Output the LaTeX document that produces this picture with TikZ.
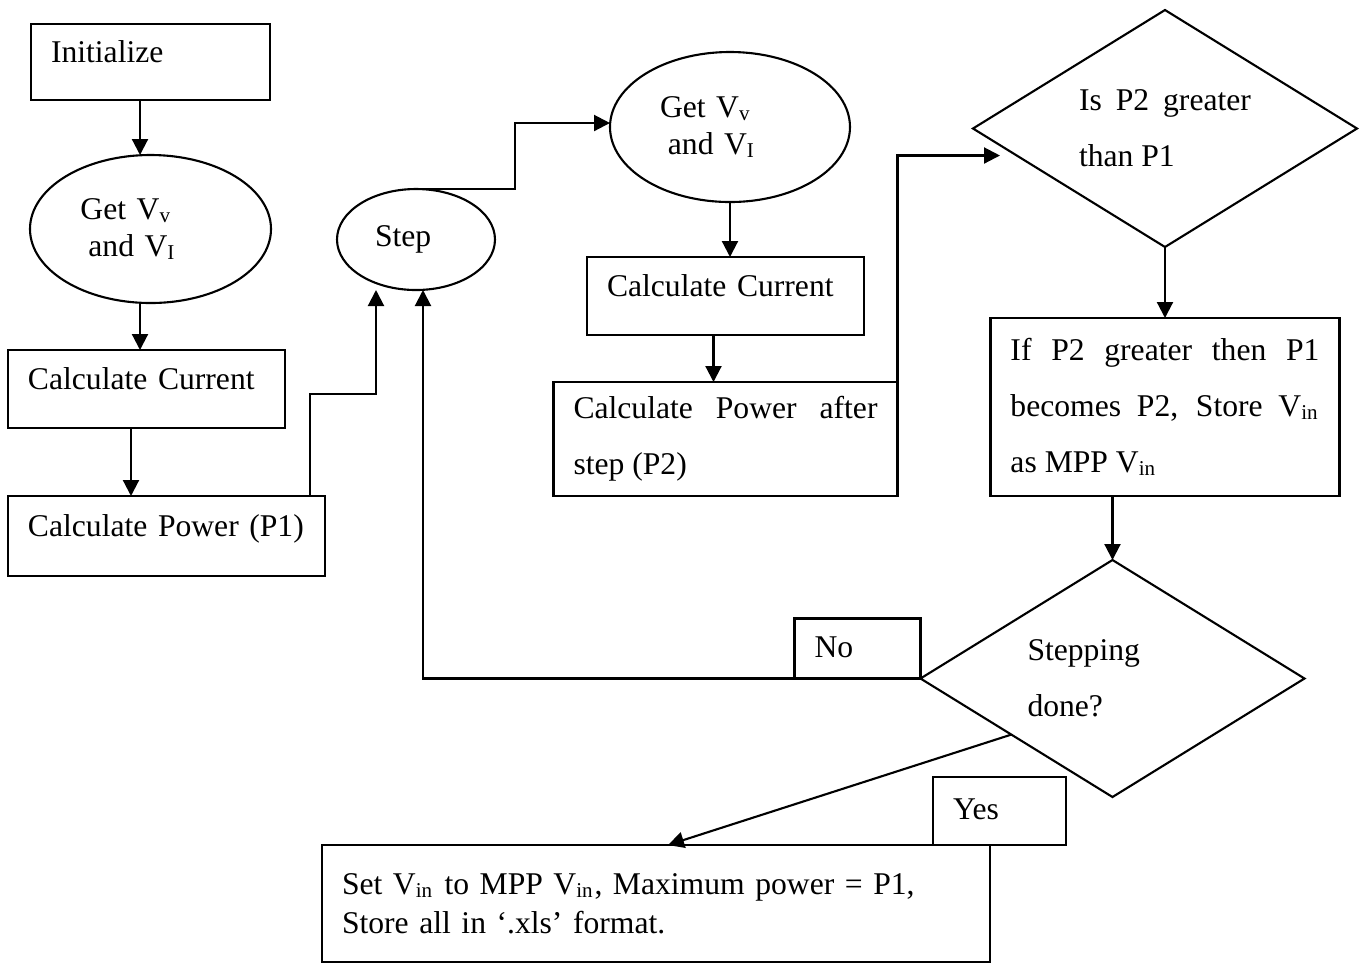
\documentclass[tikz,border=0pt]{standalone}
\usepackage{fontspec}
\setmainfont{Liberation Serif}
\usetikzlibrary{shapes.geometric, arrows.meta, positioning}
\hyphenpenalty=10000
\tolerance=10000

\begin{document}
\begin{tikzpicture}[
    >={Triangle[length=1.6mm, width=1.6mm]},
    font=\fontsize{9}{10.4}\selectfont,
    line width=0.6pt,
    box/.style={draw, rectangle, inner xsep=0.2cm, inner ysep=0pt, outer sep=0pt, align=left},
    onebox/.style={box, text height=1.2ex, text depth=1.2ex},
    tagbox/.style={box, text height=1.6ex, text depth=0.5ex},
    widebox/.style={box, align=justify, font=\fontsize{9}{15.9}\selectfont},
    oval/.style={draw, ellipse, inner sep=0pt, outer sep=0pt, align=left},
    decision/.style={draw, diamond, aspect=1.6, inner sep=0pt, outer sep=0pt,
                     minimum width=3.84cm, minimum height=2.37cm, font=\fontsize{9}{15.9}\selectfont},
    arr/.style={->},
]
\path[use as bounding box, fill=white] (0,0) rectangle (13.64,-9.63);

% === first pass: P1 ===
\node[onebox, text width=1.99cm, minimum height=0.76cm] (init) at (1.505,-0.62) {Initialize};
\node[oval, text width=1.4cm, minimum width=2.41cm, minimum height=1.48cm, below=0.55cm of init] (get1)
    {Get V\textsubscript{v}\\\hspace*{.25em}and V\textsubscript{I}};
\node[onebox, text width=2.37cm, minimum height=0.78cm] (calc1) at (1.465,-3.89) {Calculate Current};
\node[onebox, text width=2.77cm, minimum height=0.80cm, below right=0.68cm and 0cm of calc1.south west] (pow1)
    {Calculate Power (P1)};

\draw[arr] ([xshift=-0.105cm]init.south) -- ([xshift=-0.105cm]init.south |- get1.north);
\draw[arr] ([xshift=-0.105cm]get1.south) -- ([xshift=-0.105cm]get1.south |- calc1.north);
\draw[arr] ([xshift=-0.155cm]calc1.south) -- ([xshift=-0.155cm]calc1.south |- pow1.north);

% === step, second pass: P2 ===
\node[oval, text width=0.82cm, minimum width=1.58cm, minimum height=1.01cm] (step) at (4.16,-2.395) {Step};
\node[oval, text width=1.4cm, minimum width=2.4cm, minimum height=1.5cm] (get2) at (7.30,-1.27)
    {Get V\textsubscript{v}\\\hspace*{.25em}and V\textsubscript{I}};
\node[onebox, text width=2.37cm, minimum height=0.78cm, below=0.55cm of get2, xshift=-0.045cm] (calc2)
    {Calculate Current};
\node[widebox, text width=3.04cm, minimum height=1.14cm, below=0.47cm of calc2] (pow2)
    {Calculate Power after step (P2)};

\draw[arr] ([xshift=-0.15cm]pow1.north east) -- ++(0,1.02) -| ([xshift=-0.40cm]step.south);
\draw[arr] (step.north) -- ++(0.99,0) |- ([yshift=0.04cm]get2.west);
\draw[arr] (get2.south) -- (get2.south |- calc2.north);
\draw[arr] ([xshift=-0.12cm]calc2.south) -- ([xshift=-0.12cm]calc2.south |- pow2.north);

% === decisions ===
\node[decision, text width=1.72cm, align=justify] (dec1) at (11.65,-1.285) {Is P2 greater than P1};
\node[widebox, text width=3.09cm, minimum height=1.78cm, below=0.71cm of dec1] (store)
    {If P2 greater then P1 becomes P2, Store V\textsubscript{in}\linebreak as MPP V\textsubscript{in}};
\node[decision, text width=1.7cm, align=left] (dec2) at (11.125,-6.785) {Stepping\\done?};

\draw[arr] (pow2.north east) |- ([xshift=0.27cm, yshift=-0.27cm]dec1.west);
\draw[arr] (dec1.south) -- (dec1.south |- store.north);
\draw[arr] (dec2.north |- store.south) -- (dec2.north);

% === outcomes ===
\node[tagbox, text width=0.86cm, minimum height=0.60cm, anchor=south east] (no) at (dec2.west) {No};
\node[tagbox, text width=0.93cm, minimum height=0.68cm] (yes) at (9.995,-8.11) {Yes};
\node[box, text width=6.28cm, minimum height=1.17cm, font=\fontsize{9}{11}\selectfont] (final) at (6.56,-9.035)
    {Set V\textsubscript{in} to MPP V\textsubscript{in}, Maximum power = P1,\\Store all in `.xls' format.};

\draw[arr] (dec2.west) -| ([xshift=0.07cm]step.south);
\draw[arr] (dec2.209) -- ([xshift=0.12cm]final.north);

\end{tikzpicture}
\end{document}
